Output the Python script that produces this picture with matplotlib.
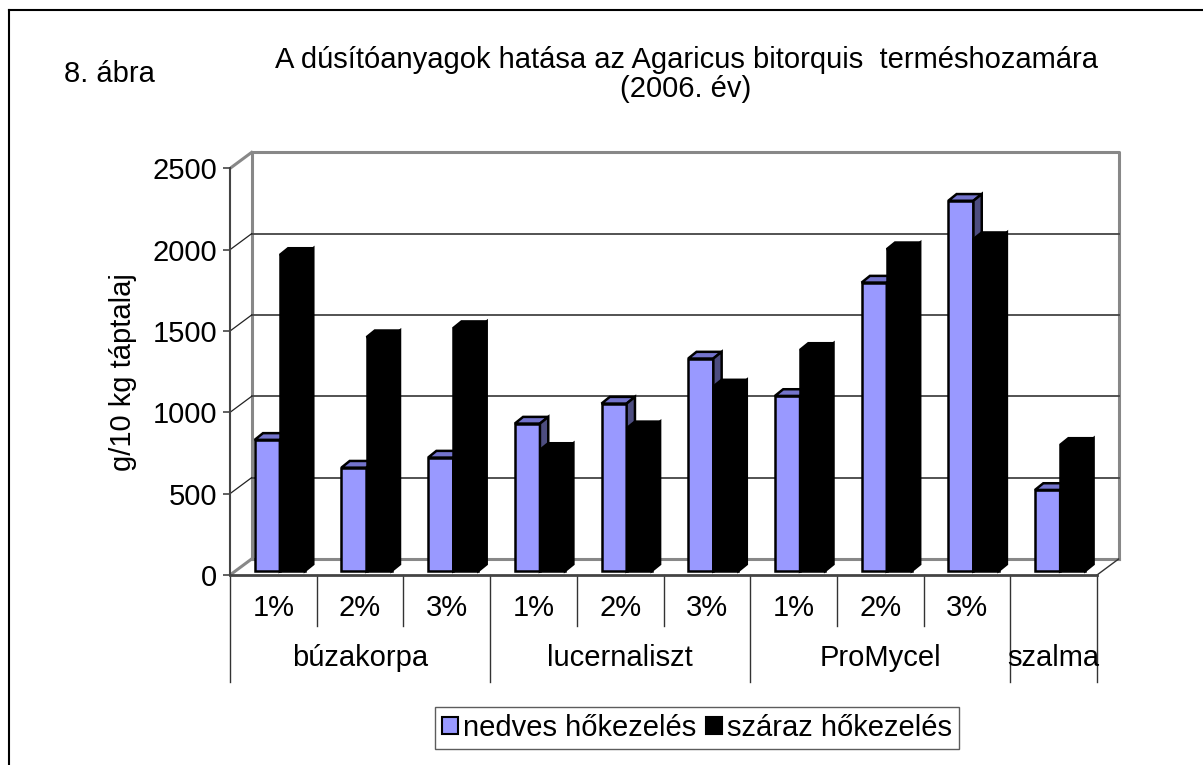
import numpy as np
import matplotlib.pyplot as plt
from matplotlib.patches import Patch
from matplotlib.lines import Line2D

plt.rcParams['font.family'] = ['Liberation Sans', 'DejaVu Sans']

# data
doses = ['1%', '2%', '3%', '1%', '2%', '3%', '1%', '2%', '3%', '']
groups = ['búzakorpa', 'lucernaliszt', 'ProMycel', 'szalma']
group_span = [(0, 3), (3, 6), (6, 9), (9, 10)]
nedves = [806, 635, 697, 906, 1029, 1306, 1076, 1773, 2276, 498]
szaraz = [1943, 1437, 1493, 744, 877, 1134, 1359, 1978, 2040, 775]
yticks = [0, 500, 1000, 1500, 2000, 2500]

FS = 21
W, H = 1203, 765
fig = plt.figure(figsize=(W / 100, H / 100), dpi=100)

# pixel geometry of the front plane
px_slot = 86.7          # pixels per category slot
px_unit = 0.16264       # pixels per value unit
x0_px, y0_px = 230, 575
right_px, top_px = 1130, 140
ax = fig.add_axes([x0_px / W, 1 - y0_px / H, (right_px - x0_px) / W, (y0_px - top_px) / H])
ax.set_xlim(0, (right_px - x0_px) / px_slot)
ax.set_ylim(0, (y0_px - top_px) / px_unit)

# depth offsets (wall and bars)
wdx, wdy = 21.6 / px_slot, 16 / px_unit
bdx, bdy = 8.3 / px_slot, 6.7 / px_unit
base = 25
n = len(nedves)

# back wall + floor + left wall
grey = '#888888'
ax.plot([wdx, wdx, n + wdx, n + wdx], [wdy, 2500 + wdy, 2500 + wdy, wdy], color=grey, lw=2.2, zorder=1)
ax.plot([wdx, n + wdx], [wdy, wdy], color=grey, lw=2.2, zorder=1)
ax.plot([0, wdx], [0, wdy], color=grey, lw=2.2, zorder=1)
ax.plot([n, n + wdx], [0, wdy], color='#333333', lw=1, zorder=1)
ax.plot([0, wdx], [2500, 2500 + wdy], color=grey, lw=2.2, zorder=1)
for v in yticks[1:-1]:
    ax.plot([wdx, n + wdx], [v + wdy, v + wdy], color='#444444', lw=1.3, zorder=1)
    ax.plot([0, wdx], [v, v + wdy], color='#222222', lw=0.9, zorder=1)


def bar3d(x, w, h, face, top, side):
    ax.bar(x, h, width=w, bottom=base, align='edge', color=face, edgecolor='black', lw=1.8, zorder=3)
    y1 = base + h
    ax.fill([x, x + bdx, x + w + bdx, x + w], [y1, y1 + bdy, y1 + bdy, y1],
            facecolor=top, edgecolor='black', lw=1.8, zorder=3)
    ax.fill([x + w, x + w + bdx, x + w + bdx, x + w], [base, base + bdy, y1 + bdy, y1],
            facecolor=side, edgecolor='black', lw=1.8, zorder=3)


bw = 0.29
for i in range(n):
    bar3d(i + 0.285, bw, nedves[i], '#9999FF', '#7373CC', '#4D4D80')
    bar3d(i + 0.285 + bw, bw, szaraz[i], 'black', 'black', 'black')

# front axes
for s in ['top', 'right']:
    ax.spines[s].set_visible(False)
ax.spines['left'].set_bounds(0, 2500)
ax.spines['left'].set_color('#444444')
ax.spines['left'].set_linewidth(1.5)
ax.spines['bottom'].set_bounds(0, n)
ax.spines['bottom'].set_color('#444444')
ax.spines['bottom'].set_linewidth(2)
ax.set_yticks(yticks)
ax.tick_params(axis='y', length=5, width=1.2, color='#444444', pad=4, labelsize=FS)
ax.set_xticks([])

# category labels and separators under the floor
lab_y = (y0_px - 608) / px_unit
grp_y = (y0_px - 658) / px_unit
short_y = (y0_px - 626) / px_unit
long_y = (y0_px - 682) / px_unit
for i in range(n + 1):
    is_long = i in (0, 3, 6, 9, 10)
    ax.plot([i, i], [0, long_y if is_long else short_y], color='#333333', lw=1, clip_on=False)
for i, d in enumerate(doses):
    ax.text(i + 0.5, lab_y, d, ha='center', va='center', fontsize=FS, clip_on=False)
for g, (a, b) in zip(groups, group_span):
    ax.text((a + b) / 2, grp_y, g, ha='center', va='center', fontsize=FS, clip_on=False)

# titles and labels
fig.text(686 / W, 1 - 60 / H, 'A dúsítóanyagok hatása az Agaricus bitorquis  terméshozamára',
         ha='center', va='center', fontsize=FS)
fig.text(686 / W, 1 - 89 / H, '(2006. év)', ha='center', va='center', fontsize=FS)
fig.text(64 / W, 1 - 74 / H, '8. ábra', ha='left', va='center', fontsize=FS)
fig.text(123 / W, 1 - 372 / H, 'g/10 kg táptalaj', ha='center', va='center', rotation=90, fontsize=FS)

# legend
handles = [Patch(facecolor='#9999FF', edgecolor='black', lw=1.5, label='nedves hőkezelés'),
           Patch(facecolor='black', edgecolor='black', lw=1.5, label='száraz hőkezelés')]
leg = fig.legend(handles=handles, loc='center', bbox_to_anchor=(697 / W, 1 - 728 / H), ncol=2,
                 fontsize=FS, frameon=True, fancybox=False, handlelength=0.55, handleheight=0.55,
                 handletextpad=0.15, columnspacing=0.35, borderpad=0.25, borderaxespad=0)
leg.get_frame().set_edgecolor('#333333')
leg.get_frame().set_linewidth(1)

# outer border (top and left visible)
fig.add_artist(Line2D([9 / W, 9 / W], [0, 1 - 9.5 / H], transform=fig.transFigure, color='black', lw=1.5))
fig.add_artist(Line2D([9 / W, 1], [1 - 9.5 / H, 1 - 9.5 / H], transform=fig.transFigure, color='black', lw=1.5))

fig.savefig('out.png', dpi=100)
